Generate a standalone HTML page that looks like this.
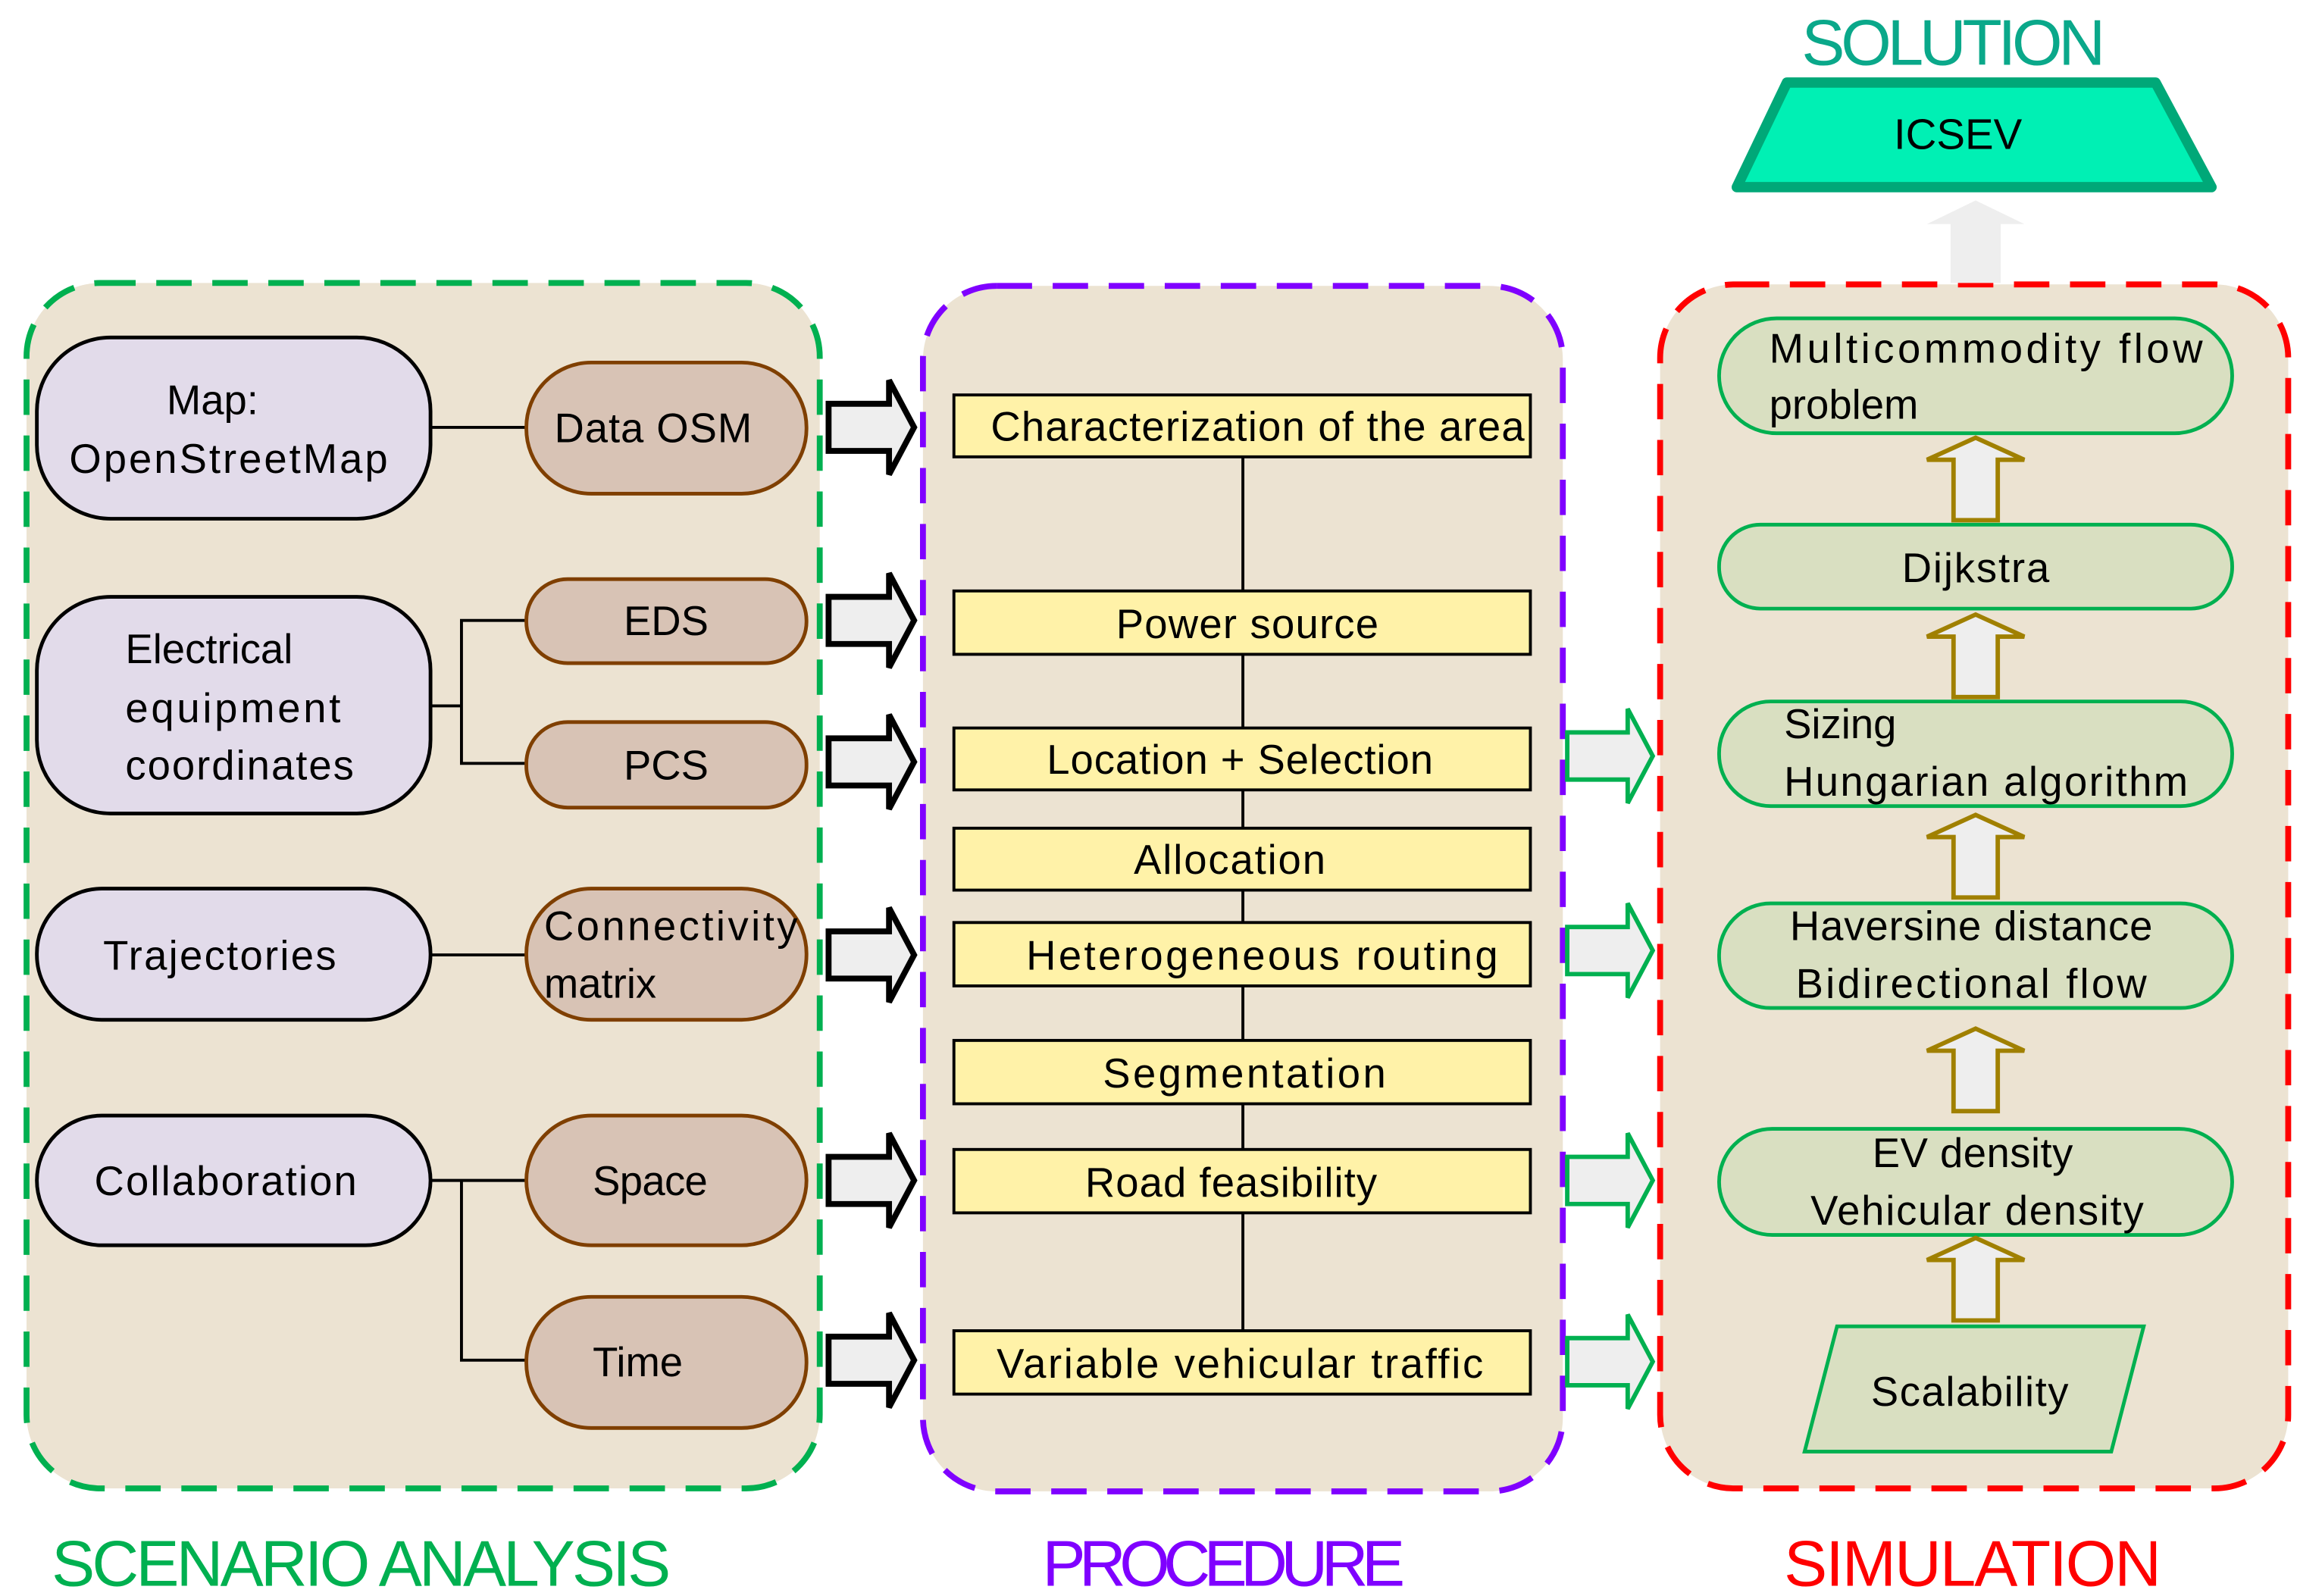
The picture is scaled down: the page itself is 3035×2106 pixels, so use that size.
<!DOCTYPE html>
<html><head><meta charset="utf-8"><style>html,body{margin:0;padding:0;background:#fff}svg{display:block}</style></head>
<body>
<svg width="3035" height="2106" viewBox="0 0 1560 1083" preserveAspectRatio="none" xmlns="http://www.w3.org/2000/svg" font-family="Liberation Sans, sans-serif">
<defs>
<g id="barr"><polygon points="0,-16 41,-16 41,-32 58,0 41,32 41,16 0,16" fill="#eeeeee" stroke="#000" stroke-width="4"/></g>
<g id="garr"><polygon points="0,-16 41,-16 41,-32 58,0 41,32 41,16 0,16" fill="#eeeeee" stroke="#00b050" stroke-width="3"/></g>
<g id="uarr"><polygon points="-15,28 -15,-13 -33,-13 0,-28 33,-13 15,-13 15,28" fill="#eeeeee" stroke="#a08000" stroke-width="3"/></g>
</defs>
<rect x="18" y="192" width="538" height="818" rx="50" fill="#ece3d2" stroke="#00b050" stroke-width="4" stroke-dasharray="24,14"/>
<rect x="626" y="194" width="434" height="818" rx="50" fill="#ece3d2" stroke="#7f00ff" stroke-width="4" stroke-dasharray="24,14"/>
<rect x="1126" y="193" width="426" height="817" rx="50" fill="#ece3d2" stroke="#ff0000" stroke-width="4" stroke-dasharray="24,14"/>
<g stroke="#000" stroke-width="2" fill="none">
<line x1="292" y1="290" x2="357" y2="290"/>
<polyline points="292,479 313,479"/><polyline points="357,421 313,421 313,518 357,518"/>
<line x1="292" y1="648" x2="357" y2="648"/>
<polyline points="292,801 357,801"/><polyline points="313,801 313,923 357,923"/>
<line x1="843" y1="310" x2="843" y2="903"/>
</g>
<g stroke="#000" stroke-width="2.5" fill="#e2dbea">
<rect x="25" y="229" width="267" height="123" rx="50"/>
<rect x="25" y="405" width="267" height="147" rx="50"/>
<rect x="25" y="603" width="267" height="89" rx="44"/>
<rect x="25" y="757" width="267" height="88" rx="44"/>
</g>
<g stroke="#7f3f00" stroke-width="2.5" fill="#d8c3b5">
<rect x="357" y="246" width="190" height="89" rx="44"/>
<rect x="357" y="393" width="190" height="57" rx="28"/>
<rect x="357" y="490" width="190" height="58" rx="28"/>
<rect x="357" y="603" width="190" height="89" rx="44"/>
<rect x="357" y="757" width="190" height="88" rx="44"/>
<rect x="357" y="880" width="190" height="89" rx="44"/>
</g>
<g font-size="28" fill="#000">
<text x="113" y="281">Map:</text>
<text x="47" y="321" textLength="216">OpenStreetMap</text>
<text x="85" y="450">Electrical</text>
<text x="85" y="490" textLength="146">equipment</text>
<text x="85" y="529" textLength="155">coordinates</text>
<text x="70" y="658" textLength="158">Trajectories</text>
<text x="64" y="811" textLength="178">Collaboration</text>
<text x="376" y="300" textLength="134">Data OSM</text>
<text x="423" y="431">EDS</text>
<text x="423" y="529">PCS</text>
<text x="369" y="638" textLength="172">Connectivity</text>
<text x="369" y="677">matrix</text>
<text x="402" y="811" textLength="78">Space</text>
<text x="402" y="934">Time</text>
</g>
<use href="#barr" x="562" y="290"/><use href="#barr" x="562" y="421"/><use href="#barr" x="562" y="517"/>
<use href="#barr" x="562" y="648"/><use href="#barr" x="562" y="801"/><use href="#barr" x="562" y="923"/>
<g fill="#fff2a8" stroke="#000" stroke-width="2">
<rect x="647" y="268" width="391" height="42"/><rect x="647" y="401" width="391" height="43"/>
<rect x="647" y="494" width="391" height="42"/><rect x="647" y="562" width="391" height="42"/>
<rect x="647" y="626" width="391" height="43"/><rect x="647" y="706" width="391" height="43"/>
<rect x="647" y="780" width="391" height="43"/><rect x="647" y="903" width="391" height="43"/>
</g>
<g font-size="28" fill="#000" text-anchor="middle">
<text x="853" y="299" textLength="362">Characterization of the area</text>
<text x="846" y="433" textLength="178">Power source</text>
<text x="841" y="525" textLength="262">Location + Selection</text>
<text x="834" y="593" textLength="130">Allocation</text>
<text x="856" y="658" textLength="320">Heterogeneous routing</text>
<text x="844" y="738" textLength="192">Segmentation</text>
<text x="835" y="812" textLength="198">Road feasibility</text>
<text x="841" y="935" textLength="330">Variable vehicular traffic</text>
</g>
<use href="#garr" x="1063" y="513"/><use href="#garr" x="1063" y="645"/><use href="#garr" x="1063" y="801"/><use href="#garr" x="1063" y="924"/>
<g fill="#d9dfc1" stroke="#00b050" stroke-width="2.5">
<rect x="1166" y="216" width="348" height="78" rx="39"/>
<rect x="1166" y="356" width="348" height="57" rx="28"/>
<rect x="1166" y="476" width="348" height="71" rx="35"/>
<rect x="1166" y="613" width="348" height="71" rx="35"/>
<rect x="1166" y="766" width="348" height="72" rx="36"/>
<polygon points="1246,900 1454,900 1432,985 1224,985"/>
</g>
<g font-size="28" fill="#000">
<text x="1200" y="246" textLength="294">Multicommodity flow</text>
<text x="1200" y="284">problem</text>
<text x="1290" y="395" textLength="100">Dijkstra</text>
<text x="1210" y="501">Sizing</text>
<text x="1210" y="540" textLength="274">Hungarian algorithm</text>
<text x="1214" y="638" textLength="246">Haversine distance</text>
<text x="1218" y="677" textLength="238">Bidirectional flow</text>
<text x="1270" y="792" textLength="136">EV density</text>
<text x="1228" y="831" textLength="226">Vehicular density</text>
<text x="1269" y="954" textLength="134">Scalability</text>
</g>
<use href="#uarr" x="1340" y="325"/><use href="#uarr" x="1340" y="445"/><use href="#uarr" x="1340" y="581"/>
<use href="#uarr" x="1340" y="726"/><use href="#uarr" x="1340" y="868"/>
<polygon points="1323,192 1323,152 1307,152 1340,136 1373,152 1357,152 1357,192" fill="#eeeeee"/>
<polygon points="1212,56 1462,56 1500,127 1178,127" fill="#00f0b4" stroke="#00a878" stroke-width="7" stroke-linejoin="round"/>
<text x="1328" y="101" font-size="29" text-anchor="middle">ICSEV</text>
<text x="1325" y="44" font-size="44" fill="#0aa88a" text-anchor="middle" textLength="206">SOLUTION</text>
<text x="35" y="1076" font-size="44" fill="#00b050" textLength="420">SCENARIO ANALYSIS</text>
<text x="830" y="1076" font-size="44" fill="#7f00ff" text-anchor="middle" textLength="246">PROCEDURE</text>
<text x="1338" y="1076" font-size="44" fill="#ff0000" text-anchor="middle" textLength="256">SIMULATION</text>
</svg>
</body></html>
